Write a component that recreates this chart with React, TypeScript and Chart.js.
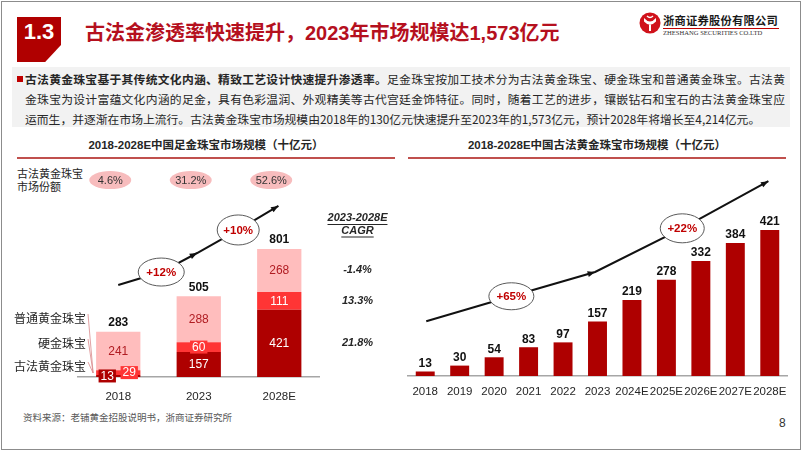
import React, { useEffect, useRef } from 'react';
import { Chart, registerables } from 'chart.js';

Chart.register(...registerables);

const FONT = '"Liberation Sans", "Noto Sans CJK SC", sans-serif';
const CJK = '"Noto Sans CJK SC", "Liberation Sans", sans-serif';

// ---------- data ----------
const leftCategories = ['2018', '2023', '2028E'];
const ancientGold = [13, 157, 421];
const hardGold = [29, 60, 111];
const regularGold = [241, 288, 268];
const leftTotals = [283, 505, 801];
const ancientShare = ['4.6%', '31.2%', '52.6%'];
const segmentNames = ['古法黄金珠宝', '硬金珠宝', '普通黄金珠宝'];
const segmentCagr = ['21.8%', '13.3%', '-1.4%'];
const leftGrowth = ['+12%', '+10%'];

const rightCategories = ['2018', '2019', '2020', '2021', '2022', '2023', '2024E', '2025E', '2026E', '2027E', '2028E'];
const ancientMarket = [13, 30, 54, 83, 97, 157, 219, 278, 332, 384, 421];
const rightGrowth = ['+65%', '+22%'];

// ---------- styles ----------
const DARK = '#AE0000';
const RED = '#FF3535';
const PINK = '#FFBDBD';

function arrowHead(ctx: CanvasRenderingContext2D, from: number[], to: number[], size = 8) {
  const a = Math.atan2(to[1] - from[1], to[0] - from[0]);
  ctx.beginPath();
  ctx.moveTo(to[0], to[1]);
  ctx.lineTo(to[0] - size * Math.cos(a - 0.38), to[1] - size * Math.sin(a - 0.38));
  ctx.lineTo(to[0] - size * Math.cos(a + 0.38), to[1] - size * Math.sin(a + 0.38));
  ctx.closePath();
  ctx.fill();
}

function drawGrowthArrow(chart: any, anchors: number[][], labels: string[], ellipseSizes: number[][]) {
  const { ctx, scales } = chart;
  const pts = anchors.map((p) => [scales.x.getPixelForValue(p[0]), scales.y.getPixelForValue(p[1])]);
  ctx.save();
  ctx.strokeStyle = '#111';
  ctx.fillStyle = '#111';
  ctx.lineWidth = 2;
  ctx.beginPath();
  pts.forEach((p, i) => (i ? ctx.lineTo(p[0], p[1]) : ctx.moveTo(p[0], p[1])));
  ctx.stroke();
  arrowHead(ctx, pts[1], pts[2]);
  arrowHead(ctx, pts[3], pts[4]);
  [1, 3].forEach((k, i) => {
    const [w, h] = ellipseSizes[i];
    ctx.beginPath();
    ctx.ellipse(pts[k][0], pts[k][1], w / 2, h / 2, 0, 0, Math.PI * 2);
    ctx.fillStyle = '#fff';
    ctx.fill();
    ctx.lineWidth = 1;
    ctx.strokeStyle = '#595959';
    ctx.stroke();
    ctx.fillStyle = '#C00000';
    ctx.font = `bold 11.5px ${FONT}`;
    ctx.textAlign = 'center';
    ctx.textBaseline = 'middle';
    ctx.fillText(labels[i], pts[k][0], pts[k][1] + 0.5);
  });
  ctx.restore();
}

const leftDecor = {
  id: 'leftDecor',
  afterDatasetsDraw(chart: any) {
    const { ctx, chartArea, scales } = chart;
    ctx.save();
    // segment labels
    const colors = [DARK, RED, PINK];
    chart.data.datasets.forEach((ds: any, di: number) => {
      const meta = chart.getDatasetMeta(di);
      meta.data.forEach((bar: any, i: number) => {
        const h = Math.abs(bar.base - bar.y);
        const cy = (bar.y + bar.base) / 2;
        let cx = bar.x;
        const txt = String(ds.data[i]);
        ctx.font = `12px ${FONT}`;
        ctx.textAlign = 'center';
        ctx.textBaseline = 'middle';
        if (h < 14) {
          if (h < 7) cx = bar.x + (di === 0 ? -11 : 11);
          const tw = ctx.measureText(txt).width + 4;
          ctx.fillStyle = colors[di];
          ctx.fillRect(cx - tw / 2, cy - 6.5, tw, 13);
        }
        ctx.fillStyle = di === 2 ? '#B01C22' : '#fff';
        ctx.fillText(txt, cx, cy + 0.5);
      });
    });
    // totals
    const topMeta = chart.getDatasetMeta(2);
    ctx.font = `bold 12px ${FONT}`;
    ctx.fillStyle = '#111';
    ctx.textBaseline = 'bottom';
    topMeta.data.forEach((bar: any, i: number) => {
      ctx.fillText(String(leftTotals[i]), bar.x, bar.y - 3);
    });
    // share ellipses
    const shareY = scales.y.getPixelForValue(1231);
    topMeta.data.forEach((bar: any, i: number) => {
      const ex = bar.x - 8;
      ctx.beginPath();
      ctx.ellipse(ex, shareY, 21, 9, 0, 0, Math.PI * 2);
      ctx.fillStyle = '#F7BCBD';
      ctx.fill();
      ctx.fillStyle = '#333';
      ctx.font = `11px ${FONT}`;
      ctx.textBaseline = 'middle';
      ctx.fillText(ancientShare[i], ex, shareY + 0.5);
    });
    // CAGR column
    const cx = chartArea.right + 38;
    ctx.font = `italic bold 11px ${FONT}`;
    ctx.fillStyle = '#262626';
    ctx.textAlign = 'center';
    ctx.textBaseline = 'middle';
    const heads = ['2023-2028E', 'CAGR'];
    heads.forEach((t, k) => {
      const yy = chartArea.top + 1 + k * 12.5;
      ctx.fillText(t, cx, yy);
      const w = ctx.measureText(t).width;
      ctx.fillRect(cx - w / 2, yy + 6, w, 1);
    });
    const last = leftCategories.length - 1;
    chart.data.datasets.forEach((_: any, di: number) => {
      const bar = chart.getDatasetMeta(di).data[last];
      ctx.fillText(segmentCagr[di], cx, (bar.y + bar.base) / 2);
    });
    // legend names with leader lines
    const first = chart.getDatasetMeta(0).data[0];
    const nameX = chartArea.left + 8;
    const nameY = [chartArea.bottom - 11, chartArea.bottom - 34, chartArea.bottom - 59];
    ctx.font = `12px ${CJK}`;
    ctx.textAlign = 'right';
    ctx.fillStyle = '#262626';
    segmentNames.forEach((n, di) => {
      ctx.fillText(n, nameX, nameY[di]);
    });
    ctx.strokeStyle = '#D9898B';
    ctx.lineWidth = 0.8;
    segmentNames.forEach((_, di) => {
      ctx.beginPath();
      ctx.moveTo(nameX + 2, nameY[di] - 4);
      ctx.lineTo(first.x - first.width / 2 - 3, chartArea.bottom - 4);
      ctx.stroke();
    });
    ctx.restore();
    drawGrowthArrow(
      chart,
      [[0, 575], [0.534, 656], [0.98, 775], [1.49, 919], [1.99, 1069]],
      leftGrowth,
      [[46, 28], [42, 30]]
    );
  },
};

const rightDecor = {
  id: 'rightDecor',
  afterDatasetsDraw(chart: any) {
    const { ctx } = chart;
    ctx.save();
    ctx.font = `bold 12px ${FONT}`;
    ctx.fillStyle = '#111';
    ctx.textAlign = 'center';
    ctx.textBaseline = 'bottom';
    chart.getDatasetMeta(0).data.forEach((bar: any, i: number) => {
      ctx.fillText(String(ancientMarket[i]), bar.x, bar.y - 2);
    });
    ctx.restore();
    drawGrowthArrow(
      chart,
      [[0.03, 158], [2.5, 230], [4.93, 300], [7.46, 426], [9.96, 562]],
      rightGrowth,
      [[45, 27], [44, 29]]
    );
  },
};

function LeftChart() {
  const ref = useRef<HTMLCanvasElement>(null);
  useEffect(() => {
    const chart = new Chart(ref.current as HTMLCanvasElement, {
      type: 'bar',
      data: {
        labels: leftCategories,
        datasets: [
          { label: segmentNames[0], data: ancientGold, backgroundColor: DARK },
          { label: segmentNames[1], data: hardGold, backgroundColor: RED },
          { label: segmentNames[2], data: regularGold, backgroundColor: PINK },
        ],
      },
      options: {
        responsive: false,
        animation: false,
        events: [],
        layout: { padding: { left: 78, right: 80.5, top: 217, bottom: 34.2 } },
        datasets: { bar: { categoryPercentage: 1, barPercentage: 0.55 } },
        plugins: { legend: { display: false }, tooltip: { enabled: false } },
        scales: {
          x: {
            stacked: true,
            grid: { display: false, drawTicks: false },
            border: { display: true, color: '#A6A6A6', width: 1.5 },
            ticks: { padding: 13, color: '#262626', font: { size: 11.5, family: FONT } },
          },
          y: { stacked: true, display: false, min: 0, max: 1000 },
        },
      } as any,
      plugins: [leftDecor],
    });
    return () => chart.destroy();
  }, []);
  return <canvas ref={ref} width={400} height={451} style={{ position: 'absolute', left: 0, top: 0 }} />;
}

function RightChart() {
  const ref = useRef<HTMLCanvasElement>(null);
  useEffect(() => {
    const chart = new Chart(ref.current as HTMLCanvasElement, {
      type: 'bar',
      data: {
        labels: rightCategories,
        datasets: [{ label: '古法黄金珠宝市场规模', data: ancientMarket, backgroundColor: DARK }],
      },
      options: {
        responsive: false,
        animation: false,
        events: [],
        layout: { padding: { left: 8, right: 15, top: 168, bottom: 43.2 } },
        datasets: { bar: { categoryPercentage: 1, barPercentage: 0.55 } },
        plugins: { legend: { display: false }, tooltip: { enabled: false } },
        scales: {
          x: {
            grid: { display: false, drawTicks: false },
            border: { display: true, color: '#A6A6A6', width: 1.5 },
            ticks: { padding: 9, color: '#262626', font: { size: 11.5, family: FONT }, autoSkip: false, maxRotation: 0 },
          },
          y: { display: false, min: 0, max: 600 },
        },
      } as any,
      plugins: [rightDecor],
    });
    return () => chart.destroy();
  }, []);
  return <canvas ref={ref} width={402} height={451} style={{ position: 'absolute', left: 400, top: 0 }} />;
}

const abs = (s: React.CSSProperties): React.CSSProperties => ({ position: 'absolute', ...s });

export default function App() {
  const lineStyle: React.CSSProperties = {
    position: 'absolute',
    left: 25,
    width: 760,
    fontSize: 11.8,
    lineHeight: '19.5px',
    fontFamily: CJK,
    color: '#262626',
    textAlign: 'justify',
    textAlignLast: 'justify' as any,
  };
  return (
    <div style={abs({ left: 0, top: 0, width: 802, height: 451, background: '#fff', overflow: 'hidden', fontFamily: FONT })}>
      <div style={abs({ left: 1, top: 1, width: 798, height: 447, border: '1px solid #8C8C8C' })} />
      {/* section badge */}
      <div
        style={abs({
          left: 17, top: 17, width: 44, height: 45, background: '#B00000',
          clipPath: 'polygon(0 0, 100% 0, 100% 62%, 64% 100%, 0 100%)',
        })}
      />
      <div style={abs({ left: 17, top: 19, width: 44, textAlign: 'center', color: '#fff', fontWeight: 'bold', fontSize: 22, lineHeight: '26px' })}>1.3</div>
      <div style={abs({ left: 85, top: 20, fontSize: 20, lineHeight: '26px', fontWeight: 'bold', color: '#B5101E', whiteSpace: 'nowrap' })}>
        古法金渗透率快速提升，2023年市场规模达1,573亿元
      </div>
      {/* logo */}
      <svg width="22" height="22" viewBox="0 0 22 22" style={abs({ left: 639, top: 12 })}>
        <circle cx="11" cy="11" r="10.5" fill="#D0121B" />
        <path d="M5 6 Q11 13 17 6 L17 9.5 Q11 16 5 9.5 Z" fill="#fff" />
        <rect x="10" y="12.5" width="2" height="6.5" fill="#fff" />
        <path d="M8 4 Q11 7 14 4" stroke="#fff" strokeWidth="1.4" fill="none" />
      </svg>
      <div style={abs({ left: 663, top: 12.5, fontSize: 11.3, lineHeight: '15px', fontWeight: 'bold', fontFamily: CJK, color: '#1a1a1a', letterSpacing: 0.2, whiteSpace: 'nowrap' })}>
        浙商证券股份有限公司
      </div>
      <div style={abs({ left: 663, top: 27.5, width: 116, height: 1, background: '#C00000' })} />
      <div style={abs({ left: 663, top: 29, fontSize: 6.6, lineHeight: '8px', fontFamily: '"Liberation Serif", serif', color: '#333', whiteSpace: 'nowrap' })}>
        ZHESHANG SECURITIES CO.LTD
      </div>
      {/* text box */}
      <div style={abs({ left: 12, top: 67, width: 778, height: 60, background: '#F2F2F2' })} />
      <div style={abs({ left: 17, top: 75.5, width: 6, height: 6, background: '#C00000' })} />
      <div style={{ ...lineStyle, top: 69 }}>
        <b>古法黄金珠宝基于其传统文化内涵、精致工艺设计快速提升渗透率。</b>足金珠宝按加工技术分为古法黄金珠宝、硬金珠宝和普通黄金珠宝。古法黄
      </div>
      <div style={{ ...lineStyle, top: 89 }}>
        金珠宝为设计富蕴文化内涵的足金，具有色彩温润、外观精美等古代宫廷金饰特征。同时，随着工艺的进步，镶嵌钻石和宝石的古法黄金珠宝应
      </div>
      <div style={{ ...lineStyle, top: 108.5, textAlignLast: 'left' as any }}>
        运而生，并逐渐在市场上流行。古法黄金珠宝市场规模由2018年的130亿元快速提升至2023年的1,573亿元，预计2028年将增长至4,214亿元。
      </div>
      {/* chart titles */}
      <div style={abs({ left: 17, top: 138, width: 378, textAlign: 'center', fontSize: 11.5, lineHeight: '15px', fontWeight: 'bold', color: '#262626', whiteSpace: 'nowrap' })}>
        2018-2028E中国足金珠宝市场规模（十亿元）
      </div>
      <div style={abs({ left: 17, top: 157, width: 378, height: 2, background: '#C0504D' })} />
      <div style={abs({ left: 408, top: 138, width: 378, textAlign: 'center', fontSize: 11.5, lineHeight: '15px', fontWeight: 'bold', color: '#262626', whiteSpace: 'nowrap' })}>
        2018-2028E中国古法黄金珠宝市场规模（十亿元）
      </div>
      <div style={abs({ left: 408, top: 157, width: 378, height: 2, background: '#C0504D' })} />
      <div style={abs({ left: 17, top: 167, fontSize: 11, lineHeight: '13px', fontFamily: CJK, color: '#262626', whiteSpace: 'nowrap' })}>
        古法黄金珠宝
        <br />
        市场份额
      </div>
      <div style={abs({ left: 23, top: 410, fontSize: 9.5, lineHeight: '14px', fontFamily: CJK, color: '#595959', whiteSpace: 'nowrap' })}>
        资料来源：老铺黄金招股说明书，浙商证券研究所
      </div>
      <div style={abs({ left: 779, top: 415, fontSize: 12, lineHeight: '16px', color: '#333' })}>8</div>
      <LeftChart />
      <RightChart />
    </div>
  );
}
